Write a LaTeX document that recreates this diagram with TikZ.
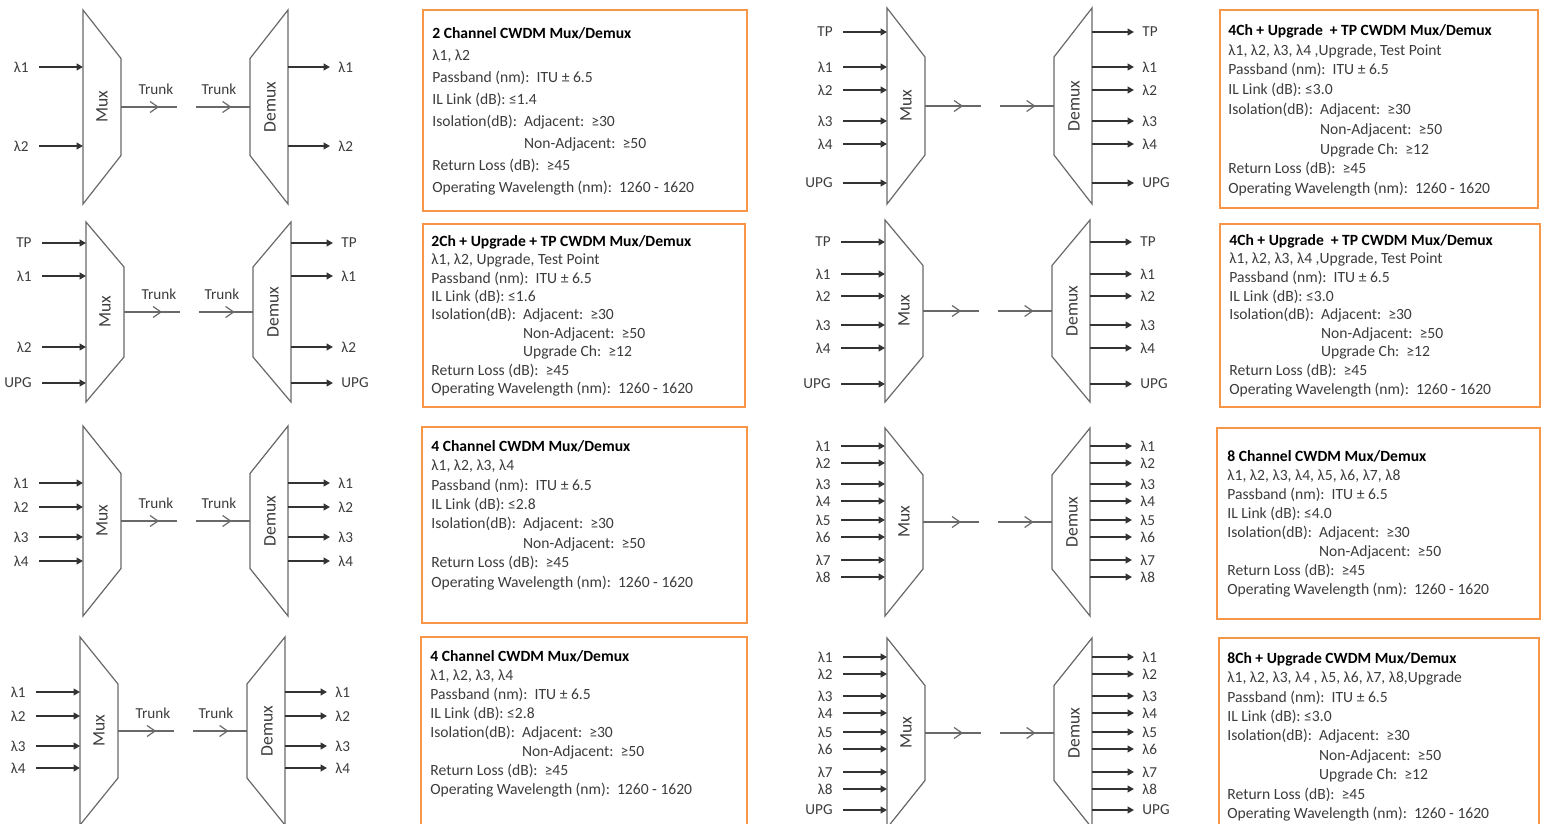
\documentclass[tikz,border=0pt]{standalone}
\usepackage{fontspec}
\setmainfont{Carlito}
\usetikzlibrary{arrows.meta,decorations.markings}

\definecolor{boxorange}{RGB}{247,150,70}
\definecolor{wiregray}{RGB}{105,105,105}
\definecolor{txtgray}{RGB}{60,60,60}

\newcommand\pband{Passband (nm):\ \ ITU ± 6.5}
\newcommand\isol{Isolation(dB):\ \ Adjacent:\ \ ≥30}
\newcommand\nadj{\hphantom{Isolation(dB):\ \ }Non-Adjacent:\ \ ≥50}
\newcommand\upch{\hphantom{Isolation(dB):\ \ }Upgrade Ch:\ \ ≥12}
\newcommand\rloss{Return Loss (dB):\ \ ≥45}
\newcommand\opwl{Operating Wavelength (nm):\ \ 1260 - 1620}

\begin{document}
\begin{tikzpicture}[x=0.5pt, y=-0.5pt,
  unit/.style={draw=wiregray, line width=0.6pt},
  sig/.style={draw=black!80, line width=0.75pt, -{Triangle[length=3.2pt,width=3.4pt]}},
  trunk/.style={postaction={decorate}, decoration={markings,
    mark=at position #1 with {\arrow{Straight Barb[length=4pt,width=5.5pt]}}}},
  lbl/.style={inner sep=0pt, text=txtgray, font=\fontsize{7.6}{9}\selectfont},
  blk/.style={lbl, rotate=90, font=\fontsize{8.8}{10}\selectfont},
  infobox/.style={draw=boxorange, line width=1.2pt},
  spec/.style={inner sep=0pt, anchor=north west, align=left, text=txtgray,
    font=\fontsize{7.8}{#1}\selectfont}]

\useasboundingbox (0,0) rectangle (1543,824);

\def\muxdemux#1{
\coordinate (mx) at (0,0);
\coordinate (dx) at (205,0);
\draw[unit] (0,-#1) -- (38,-#1/2) -- (38,#1/2) -- (0,#1) -- cycle;
\draw[unit] (205,-#1) -- (167,-#1/2) -- (167,#1/2) -- (205,#1) -- cycle;
\node[blk] (mxl) at (19,0) {Mux};
\node[blk] (dxl) at (187,0) {Demux};
\coordinate (ta) at (38,0);
\coordinate (tb) at (94,0);
\coordinate (tc) at (113,0);
\coordinate (td) at (167,0);
\draw[unit, trunk=0.68] (ta) -- (tb);
\draw[unit, trunk=0.66] (tc) -- (td);
}

\def\trunklabels{
\node[lbl] (trin) at (73,-18) {Trunk};
\node[lbl] (trout) at (136,-18) {Trunk};
}

\def\ports#1{
\foreach \y/\t [count=\i] in {#1}{
  \node[lbl, anchor=east] (in\i) at (-54,\y) {\t};
  \draw[sig, shorten <=5pt] (in\i) -- (in\i -| mx);
  \node[lbl, anchor=west] (out\i) at (255,\y) {\t};
  \draw[sig, shorten >=4pt] (out\i -| dx) -- (out\i);
}
}

% left column
\begin{scope}[shift={(83,107)}, name prefix=a1-]
\muxdemux{97}
\trunklabels
\ports{-40/λ1,39/λ2}
\end{scope}

\begin{scope}[shift={(86,312)}, name prefix=a2-]
\muxdemux{90}
\trunklabels
\ports{-69/TP,-36/λ1,35/λ2,71/UPG}
\end{scope}

\begin{scope}[shift={(83,521)}, name prefix=a3-]
\muxdemux{95}
\trunklabels
\ports{-38/λ1,-14/λ2,16/λ3,40/λ4}
\end{scope}

\begin{scope}[shift={(80,731)}, name prefix=a4-]
\muxdemux{94}
\trunklabels
\ports{-39/λ1,-15/λ2,15/λ3,37/λ4}
\end{scope}

% right column
\begin{scope}[shift={(887,106)}, name prefix=b1-]
\muxdemux{98}
\ports{-74/TP,-39/λ1,-16/λ2,15/λ3,38/λ4,77/UPG}
\end{scope}

\begin{scope}[shift={(885,311)}, name prefix=b2-]
\muxdemux{91}
\ports{-69/TP,-37/λ1,-15/λ2,14/λ3,37/λ4,73/UPG}
\end{scope}

\begin{scope}[shift={(885,522)}, name prefix=b3-]
\muxdemux{94}
\ports{-76/λ1,-59/λ2,-38/λ3,-21/λ4,-2/λ5,15/λ6,38/λ7,55/λ8}
\end{scope}

\begin{scope}[shift={(887,733)}, name prefix=b4-]
\muxdemux{95}
\ports{-76/λ1,-59/λ2,-37/λ3,-20/λ4,-1/λ5,16/λ6,39/λ7,56/λ8,77/UPG}
\end{scope}

% spec boxes
\draw[infobox] (423,10) rectangle (747,211);
\node[spec=11pt] (spec1) at (432,27) {{\color{black}\bfseries 2 Channel CWDM Mux/Demux}\\
λ1, λ2\\ \pband\\ IL Link (dB): ≤1.4\\ \isol\\ \nadj\\ \rloss\\ \opwl};

\draw[infobox] (1220,10) rectangle (1538,208);
\node[spec=9.9pt] (spec2) at (1228,24) {{\color{black}\bfseries 4Ch + Upgrade\ \ + TP CWDM Mux/Demux}\\
λ1, λ2, λ3, λ4 ,Upgrade, Test Point\\ \pband\\ IL Link (dB): ≤3.0\\ \isol\\ \nadj\\ \upch\\ \rloss\\ \opwl};

\draw[infobox] (423,224) rectangle (745,407);
\node[spec=9.2pt] (spec3) at (431,235) {{\color{black}\bfseries 2Ch + Upgrade + TP CWDM Mux/Demux}\\
λ1, λ2, Upgrade, Test Point\\ \pband\\ IL Link (dB): ≤1.6\\ \isol\\ \nadj\\ \upch\\ \rloss\\ \opwl};

\draw[infobox] (1220,224) rectangle (1540,407);
\node[spec=9.3pt] (spec4) at (1229,234) {{\color{black}\bfseries 4Ch + Upgrade\ \ + TP CWDM Mux/Demux}\\
λ1, λ2, λ3, λ4 ,Upgrade, Test Point\\ \pband\\ IL Link (dB): ≤3.0\\ \isol\\ \nadj\\ \upch\\ \rloss\\ \opwl};

\draw[infobox] (422,427) rectangle (747,623);
\node[spec=9.7pt] (spec5) at (431,440) {{\color{black}\bfseries 4 Channel CWDM Mux/Demux}\\
λ1, λ2, λ3, λ4\\ \pband\\ IL Link (dB): ≤2.8\\ \isol\\ \nadj\\ \rloss\\ \opwl};

\draw[infobox] (1217,428) rectangle (1540,619);
\node[spec=9.5pt] (spec6) at (1227,450) {{\color{black}\bfseries 8 Channel CWDM Mux/Demux}\\
λ1, λ2, λ3, λ4, λ5, λ6, λ7, λ8\\ \pband\\ IL Link (dB): ≤4.0\\ \isol\\ \nadj\\ \rloss\\ \opwl};

\draw[infobox] (421,637) rectangle (747,834);
\node[spec=9.5pt] (spec7) at (430,650) {{\color{black}\bfseries 4 Channel CWDM Mux/Demux}\\
λ1, λ2, λ3, λ4\\ \pband\\ IL Link (dB): ≤2.8\\ \isol\\ \nadj\\ \rloss\\ \opwl};

\draw[infobox] (1219,638) rectangle (1539,834);
\node[spec=9.7pt] (spec8) at (1227,652) {{\color{black}\bfseries 8Ch + Upgrade CWDM Mux/Demux}\\
λ1, λ2, λ3, λ4 , λ5, λ6, λ7, λ8,Upgrade\\ \pband\\ IL Link (dB): ≤3.0\\ \isol\\ \nadj\\ \upch\\ \rloss\\ \opwl};

\end{tikzpicture}
\end{document}
